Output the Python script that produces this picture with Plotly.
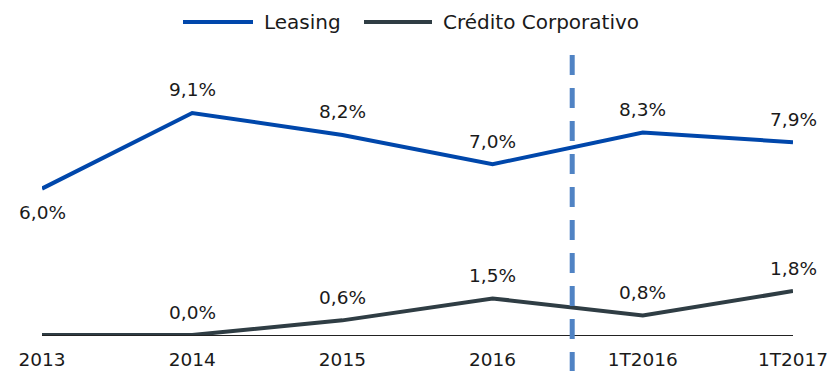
import plotly.graph_objects as go

periods = ["2013", "2014", "2015", "2016", "1T2016", "1T2017"]
leasing = [6.0, 9.1, 8.2, 7.0, 8.3, 7.9]
credito = [0.0, 0.0, 0.6, 1.5, 0.8, 1.8]
credito_labels = [None, "0,0%", "0,6%", "1,5%", "0,8%", "1,8%"]
leasing_labels = ["6,0%", "9,1%", "8,2%", "7,0%", "8,3%", "7,9%"]
leasing_label_below = [True, False, False, False, False, False]
separator_x = 3.53

BLUE = "#0047AB"
DARK = "#2F3D44"
DASH = "#5083C4"
FONT = "Century Gothic, DejaVu Sans, sans-serif"
FS = 18.5
FS_LEG = 20
TXT = "#1a1a1a"

x = list(range(len(periods)))

fig = go.Figure()
fig.add_trace(go.Scatter(x=x, y=leasing, mode="lines", name="Leasing",
                         line=dict(color=BLUE, width=4), showlegend=False))
fig.add_trace(go.Scatter(x=x, y=credito, mode="lines", name="Crédito Corporativo",
                         line=dict(color=DARK, width=4), showlegend=False))

annotations = []
for xi, v, lab, below in zip(x, leasing, leasing_labels, leasing_label_below):
    annotations.append(dict(x=xi, y=v, text=lab, showarrow=False,
                            yshift=-24 if below else 23,
                            font=dict(family=FONT, size=FS, color=TXT)))
for xi, v, lab in zip(x, credito, credito_labels):
    if lab is None:
        continue
    annotations.append(dict(x=xi, y=v, text=lab, showarrow=False, yshift=23,
                            font=dict(family=FONT, size=FS, color=TXT)))

# legend drawn as line samples plus labels
legend_items = [("Leasing", BLUE, 183, 253, 262), ("Crédito Corporativo", DARK, 364, 432, 441)]
shapes = []
for name, col, xa, xb, xt in legend_items:
    shapes.append(dict(type="line", xref="paper", yref="paper",
                       x0=(xa - 42) / 751, x1=(xb - 42) / 751,
                       y0=(335 - 22) / 299, y1=(335 - 22) / 299,
                       line=dict(color=col, width=4)))
    annotations.append(dict(xref="paper", yref="paper", x=(xt - 42) / 751,
                            y=(335 - 22) / 299, xanchor="left", yanchor="middle",
                            text=name, showarrow=False,
                            font=dict(family=FONT, size=FS_LEG, color=TXT)))

shapes.append(dict(type="line", xref="x", yref="paper",
                   x0=separator_x, x1=separator_x,
                   y0=(335 - 55) / 299, y1=-0.13,
                   line=dict(color=DASH, width=5, dash="20px,13px")))

fig.update_layout(
    width=829, height=371,
    margin=dict(l=42, r=36, t=36, b=36, autoexpand=False),
    paper_bgcolor="white", plot_bgcolor="white",
    font=dict(family=FONT, size=FS, color=TXT),
    annotations=annotations, shapes=shapes,
    xaxis=dict(tickmode="array", tickvals=x, ticktext=periods, range=[0, 5],
               showgrid=False, zeroline=False, showline=True, linecolor="#222",
               linewidth=1, ticks="", ticklabelstandoff=8, automargin=False,
               tickfont=dict(family=FONT, size=FS, color=TXT)),
    yaxis=dict(range=[0, 299 / 24.4], visible=False, showgrid=False,
               zeroline=False, automargin=False),
)
fig.write_html("out.html")
